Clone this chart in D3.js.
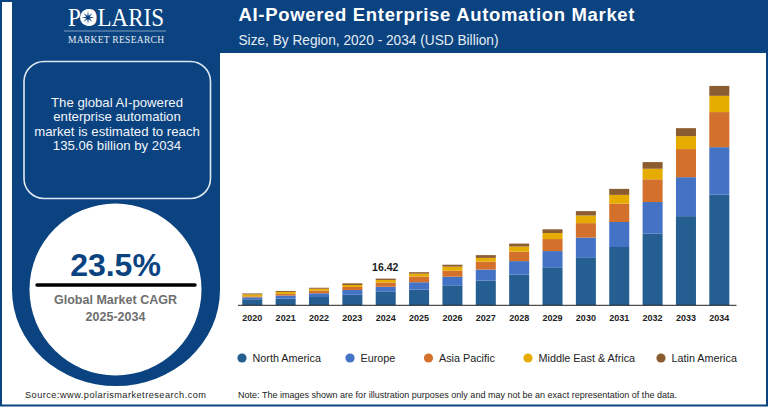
<!DOCTYPE html>
<html><head><meta charset="utf-8">
<script src="https://cdn.jsdelivr.net/npm/d3@7"></script>
<style>html,body{margin:0;padding:0;background:#fff}svg{display:block}text{font-family:"Liberation Sans",Arial,sans-serif}</style>
</head><body><svg id="c" width="768" height="407"></svg>
<script>
const years=["2020","2021","2022","2023","2024","2025","2026","2027","2028","2029","2030","2031","2032","2033","2034"];
const regions=["North America","Europe","Asia Pacific","Middle East & Africa","Latin America"];
const northAmerica=[3.7,4.1,5.1,6.5,8.3,9.6,12.3,15.2,18.9,23.4,29.2,35.9,44.1,54.9,68.2];
const europe=[1.2,1.9,2.3,2.9,3.1,4.6,5.3,6.8,8.3,10.0,12.5,15.4,19.5,24.0,29.2];
const asiaPacific=[0.6,1.05,1.6,1.9,2.6,3.5,3.7,4.9,5.9,7.4,8.9,11.3,14.0,17.3,21.6];
const middleEastAfrica=[1.2,1.2,1.2,1.2,1.6,1.8,2.5,2.3,3.1,3.7,4.7,5.4,6.5,8.0,10.0];
const latinAmerica=[0.6,0.6,0.6,1.0,0.82,0.9,1.2,1.7,1.8,2.3,2.7,3.7,4.1,4.9,6.1];
const seriesValues=[northAmerica,europe,asiaPacific,middleEastAfrica,latinAmerica];
const colors=["#255e91","#4472c4","#d3702b","#e6ac00","#8b5c2f"];
const annotatedYear="2024", annotation="16.42";
const calloutLines=["The global AI-powered","enterprise automation","market is estimated to reach","135.06 billion by 2034"];

const navy="#0a4380";
const svg=d3.select("#c");
svg.append("rect").attr("width",768).attr("height",407).attr("fill","#fff");
svg.append("path").attr("fill",navy)
  .attr("d","M12,2H767V53H220V290A104,96 0 0 1 12,290Z");
svg.append("rect").attr("x",1).attr("y",1).attr("width",766).attr("height",404.5)
  .attr("fill","none").attr("stroke",navy).attr("stroke-width",2);

// logo
svg.append("text").attr("x",116).attr("y",26).attr("text-anchor","middle").attr("fill","#fff")
  .style("font-family","'Liberation Serif',serif").style("font-size","26px").attr("textLength",96).attr("lengthAdjust","spacingAndGlyphs").text("POLARIS");
svg.append("circle").attr("cx",88).attr("cy",17.5).attr("r",8).attr("fill","#fff");
const star=d3.lineRadial().radius((d,i)=>i%2?1.9:6.4).angle((d,i)=>i*Math.PI/8).curve(d3.curveLinearClosed);
svg.append("path").attr("transform","translate(88,17.5)").attr("fill",navy).attr("d",star(d3.range(16)));
svg.append("line").attr("x1",64).attr("x2",166).attr("y1",31).attr("y2",31).attr("stroke","#9fb8d4").attr("stroke-width",0.8);
svg.append("text").attr("x",116).attr("y",43).attr("text-anchor","middle").attr("fill","#e8eef5")
  .style("font-family","'Liberation Serif',serif").style("font-size","9.5px").attr("textLength",96).text("MARKET RESEARCH");

// title
svg.append("text").attr("x",238.5).attr("y",21).attr("fill","#fff").style("font-weight","700").style("font-size","18.5px")
  .attr("textLength",396).text("AI-Powered Enterprise Automation Market");
svg.append("text").attr("x",238.5).attr("y",45).attr("fill","#e6edf5").style("font-size","14.4px")
  .attr("textLength",260).attr("lengthAdjust","spacingAndGlyphs").text("Size, By Region, 2020 - 2034 (USD Billion)");

// callout
svg.append("rect").attr("x",24).attr("y",61.5).attr("width",186.5).attr("height",137).attr("rx",20)
  .attr("fill","none").attr("stroke","#dfe7f0").attr("stroke-width",1.6);
svg.append("g").selectAll("text").data(calloutLines).join("text")
  .attr("x",117).attr("y",(d,i)=>107+i*14.4).attr("text-anchor","middle").attr("fill","#f2f5f9").style("font-size","13.2px").text(d=>d);

// CAGR circle
svg.append("circle").attr("cx",115.5).attr("cy",289.5).attr("r",86).attr("fill","#fff");
svg.append("text").attr("x",115.5).attr("y",275.7).attr("text-anchor","middle").attr("fill",navy).style("font-weight","700").style("font-size","32px").text("23.5%");
svg.append("line").attr("x1",37).attr("x2",195).attr("y1",285).attr("y2",285).attr("stroke","#000").attr("stroke-width",3.4).attr("stroke-linecap","round");
svg.append("text").attr("x",115.5).attr("y",304).attr("text-anchor","middle").attr("fill","#6e6e6e").style("font-weight","700").style("font-size","12.5px").text("Global Market CAGR");
svg.append("text").attr("x",115.5).attr("y",321).attr("text-anchor","middle").attr("fill","#6e6e6e").style("font-weight","700").style("font-size","12.5px").text("2025-2034");

// chart
const rows=years.map((y,i)=>{const r={year:y};regions.forEach((k,j)=>r[k]=seriesValues[j][i]);return r;});
const stacked=d3.stack().keys(regions)(rows);
const x=d3.scaleBand().domain(years).range([235.6,736]).paddingInner(0.4).paddingOuter(0.2);
const y=d3.scaleLinear().domain([0,135.06]).range([305.3,86]);
const color=d3.scaleOrdinal().domain(regions).range(colors);
svg.append("g").selectAll("g").data(stacked).join("g").attr("fill",d=>color(d.key))
  .selectAll("rect").data(d=>d).join("rect")
  .attr("x",d=>x(d.data.year)).attr("width",x.bandwidth())
  .attr("y",d=>y(d[1])).attr("height",d=>y(d[0])-y(d[1]));
const axis=svg.append("g").attr("transform","translate(0,305.3)")
  .call(d3.axisBottom(x).tickSize(0).tickPadding(9));
axis.select(".domain").attr("d","M238,0H736.5").attr("stroke","#222").attr("stroke-width",1);
axis.selectAll("text").attr("fill","#222").style("font-family","'Liberation Sans',Arial,sans-serif").style("font-size","9px").style("font-weight","700");
const top2024=d3.sum(seriesValues,s=>s[years.indexOf(annotatedYear)]);
svg.append("text").attr("x",x(annotatedYear)+x.bandwidth()/2-0.5).attr("y",y(top2024)-8).attr("text-anchor","middle")
  .attr("fill","#1a1a1a").style("font-weight","700").style("font-size","10.5px").text(annotation);

// legend
const legendX=[242,350,428.5,528,661];
const legend=svg.append("g").selectAll("g").data(regions).join("g").attr("transform",(d,i)=>`translate(${legendX[i]},358)`);
legend.append("circle").attr("r",4.6).attr("fill",d=>color(d));
legend.append("text").attr("x",10.5).attr("y",3.8).attr("fill","#222").style("font-size","10.8px").text(d=>d);

// footer
svg.append("text").attr("x",25).attr("y",397.5).attr("fill","#222").style("font-size","9.2px").attr("textLength",181).text("Source:www.polarismarketresearch.com");
svg.append("text").attr("x",238).attr("y",397.5).attr("fill","#222").style("font-size","9px").attr("textLength",439).text("Note: The images shown are for illustration purposes only and may not be an exact representation of the data.");
</script></body></html>
